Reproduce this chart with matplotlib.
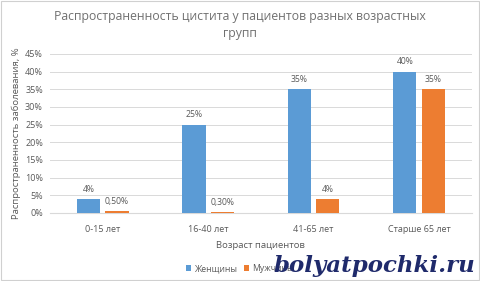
import numpy as np
import matplotlib
matplotlib.use("Agg")
import matplotlib.pyplot as plt

plt.rcParams['font.family'] = ['Open Sans', 'DejaVu Sans']

# ----------------------------
# Данные
# ----------------------------
groups = ["0-15 лет", "16-40 лет", "41-65 лет", "Старше 65 лет"]
women = [4, 25, 35, 40]
men = [0.5, 0.3, 4, 35]
women_labels = ["4%", "25%", "35%", "40%"]
men_labels = ["0,50%", "0,30%", "4%", "35%"]
yticks = [0, 5, 10, 15, 20, 25, 30, 35, 40, 45]

BLUE = "#5B9BD5"
ORANGE = "#ED7D31"
TXT = "#595959"

# ----------------------------
# График
# ----------------------------
fig = plt.figure(figsize=(4.8, 2.81), dpi=100)
ax = fig.add_axes([0.104, 0.242, 0.879, 0.566])

x = np.arange(len(groups))
w = 0.22
b1 = ax.bar(x - 0.135, women, w, color=BLUE, label="Женщины", zorder=3)
b2 = ax.bar(x + 0.135, men, w, color=ORANGE, label="Мужчины", zorder=3)

for rect, lab in zip(b1, women_labels):
    ax.text(rect.get_x() + rect.get_width() / 2, rect.get_height() + 1.5, lab,
            ha="center", va="bottom", fontsize=6.2, color=TXT)
for rect, lab in zip(b2, men_labels):
    ax.text(rect.get_x() + rect.get_width() / 2, rect.get_height() + 1.5, lab,
            ha="center", va="bottom", fontsize=6.2, color=TXT)

ax.set_xlim(-0.5, len(groups) - 0.5)
ax.set_ylim(0, 45)
ax.set_yticks(yticks)
ax.set_yticklabels([f"{t}%" for t in yticks], fontsize=6.5, color=TXT)
ax.set_xticks(x)
ax.set_xticklabels(groups, fontsize=6.5, color=TXT)
ax.tick_params(axis="x", length=0, pad=9)
ax.tick_params(axis="y", length=0, pad=5)
ax.grid(axis="y", color="#D9D9D9", linewidth=0.7, zorder=0)
for s in ["top", "right", "left"]:
    ax.spines[s].set_visible(False)
ax.spines["bottom"].set_color("#D9D9D9")

ax.set_xlabel("Возраст пациентов", fontsize=6.8, color=TXT, labelpad=5)
ax.set_ylabel("Распространенность заболевания, %", fontsize=6.8, color=TXT, labelpad=3)

fig.text(0.5, 0.94, "Распространенность цистита у пациентов разных возрастных",
         ha="center", va="center", fontsize=8.8, color="#707070")
fig.text(0.5, 0.88, "групп", ha="center", va="center", fontsize=8.8, color="#707070")

ax.legend(loc="center", bbox_to_anchor=(0.45, -0.35), ncol=2, frameon=False,
          fontsize=6.2, handlelength=0.6, handleheight=0.6, columnspacing=0.8,
          handletextpad=0.3, labelcolor=TXT)

fig.text(0.99, 0.055, "bolyatpochki.ru", ha="right", va="center",
         fontsize=16.5, fontweight="bold", fontstyle="italic",
         family="DejaVu Serif", color="#1F2A6B", zorder=10)

fig.patches.append(plt.Rectangle((0.002, 0.003), 0.996, 0.994, transform=fig.transFigure,
                                 fill=False, edgecolor="#D0D0D0", linewidth=0.8))

fig.savefig("out.png", dpi=100)
